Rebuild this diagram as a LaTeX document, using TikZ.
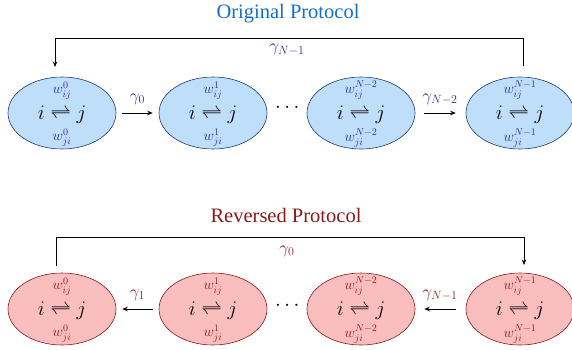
\documentclass[tikz,border=0pt]{standalone}
\usepackage{amsmath}
\usepackage{fontspec}
\newfontfamily\titlefont{Liberation Serif}
\usetikzlibrary{shapes.geometric,arrows.meta}
\definecolor{bfill}{RGB}{191,222,250}
\definecolor{bdraw}{RGB}{30,60,120}
\definecolor{btitle}{RGB}{20,110,200}
\definecolor{blab}{RGB}{50,40,160}
\definecolor{rfill}{RGB}{250,190,190}
\definecolor{rdraw}{RGB}{140,25,25}
\definecolor{rlab}{RGB}{150,25,25}
\begin{document}
\begin{tikzpicture}[x=1pt,y=-1pt,
  state/.style={ellipse,draw,minimum width=108pt,minimum height=72pt,line width=0.6pt,inner sep=0pt},
  bstate/.style={state,fill=bfill,draw=bdraw},
  rstate/.style={state,fill=rfill,draw=rdraw},
  core/.style={font=\fontsize{21.5}{21.5}\selectfont,inner sep=0pt},
  wl/.style={font=\fontsize{14.5}{14.5}\selectfont,inner sep=0pt},
  wu/.style={wl,anchor=south},
  wd/.style={wl,anchor=north},
  gl/.style={font=\fontsize{18}{18}\selectfont,inner sep=0pt},
  arr/.style={-{Stealth[length=5.5pt,width=4.5pt]},line width=0.7pt},
  ln/.style={line width=0.7pt},
  title/.style={font=\titlefont\fontsize{20.5}{20.5}\selectfont,inner sep=0pt}]
\useasboundingbox (0,0) rectangle (572,349);

\node[title,text=btitle] (t1) at (288,14) {Original Protocol};
\node[title,text=rdraw] (t2) at (286,215) {Reversed Protocol};

% top row
\foreach \n/\x/\s in {a/62/0,b/213/1,c/361/{N-2},d/520/{N-1}}{
  \node[bstate] (\n) at (\x,113) {};
  \node[core] (\n m) at (\x,114.5) {$i\rightleftharpoons j$};
  \node[wu,text=blab] (\n u) at (\x,99.5) {$w_{ij}^{\s}$};
  \node[wd,text=blab] (\n l) at (\x,128.5) {$w_{ji}^{\s}$};
}
% bottom row
\foreach \n/\x/\s in {p/62/0,q/213/1,r/361/{N-2},s/520/{N-1}}{
  \node[rstate] (\n) at (\x,309) {};
  \node[core] (\n m) at (\x,310.5) {$i\rightleftharpoons j$};
  \node[wu,text=rlab] (\n u) at (\x,295.5) {$w_{ij}^{\s}$};
  \node[wd,text=rlab] (\n l) at (\x,324.5) {$w_{ji}^{\s}$};
}

\node[core] (dt) at (289,108) {$\cdots$};
\node[core] (db) at (289,306) {$\cdots$};

% top arrows
\draw[arr] ([xshift=6pt]a.east) -- ([xshift=-6pt]b.west) node[midway,above=8pt,gl,text=blab] (g0) {$\gamma_0$};
\draw[arr] ([xshift=9pt]c.east) -- ([xshift=-10pt]d.west) node[midway,above=8pt,gl,text=blab] (g2) {$\gamma_{N-2}$};
\coordinate (tl) at (55,38);
\coordinate (tr) at (523,38);
\coordinate (trs) at (523,66);
\coordinate (tle) at (55,67);
\draw[ln] (trs) -- (tr) -- (tl);
\draw[arr] (tl) -- (tle);
\node[gl,text=blab] (gn) at (287,50) {$\gamma_{N-1}$};

% bottom arrows
\draw[arr] ([xshift=-6pt]q.west) -- ([xshift=6pt]p.east) node[midway,above=8pt,gl,text=rlab] (g1) {$\gamma_1$};
\draw[arr] ([xshift=-10pt]s.west) -- ([xshift=9pt]r.east) node[midway,above=8pt,gl,text=rlab] (g3) {$\gamma_{N-1}$};
\coordinate (bl) at (56,237);
\coordinate (br) at (524,237);
\coordinate (bls) at (56,266);
\coordinate (bre) at (524,265);
\draw[ln] (bls) -- (bl) -- (br);
\draw[arr] (br) -- (bre);
\node[gl,text=rlab] (gz) at (287,251) {$\gamma_0$};
\end{tikzpicture}
\end{document}
